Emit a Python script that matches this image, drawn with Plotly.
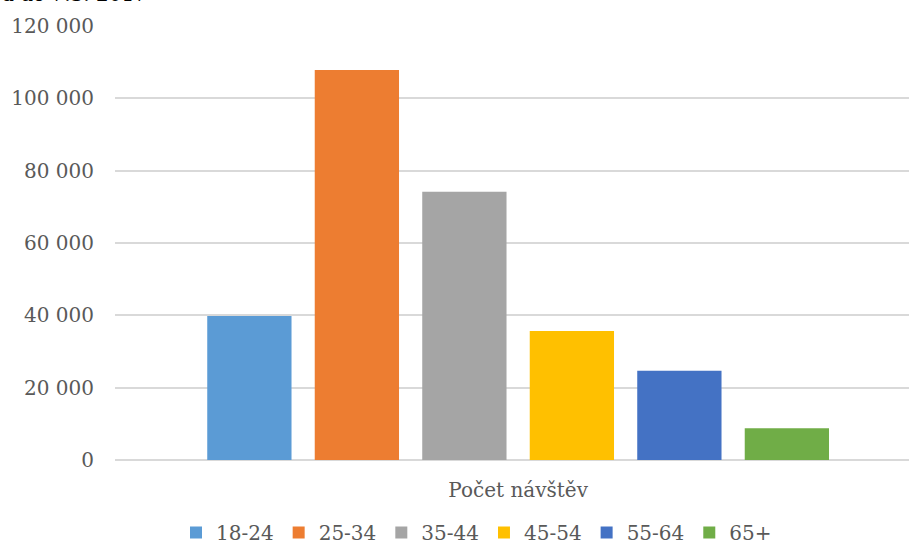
import plotly.graph_objects as go

category = ["Počet návštěv"]
age_groups = ["18-24", "25-34", "35-44", "45-54", "55-64", "65+"]
visits = [39800, 107800, 74200, 35700, 24700, 8800]
colors = ["#5B9BD5", "#ED7D31", "#A5A5A5", "#FFC000", "#4472C4", "#70AD47"]
y_ticks = [0, 20000, 40000, 60000, 80000, 100000, 120000]
title_fragment = "a do 7.3. 2017"

FONT = "DejaVu Serif"
GREY = "#595959"

fig = go.Figure()
for name, val, col in zip(age_groups, visits, colors):
    fig.add_trace(go.Bar(
        x=category, y=[val], name=name,
        marker=dict(color=col, line=dict(width=0)),
    ))

W, H = 909, 552
L, R, T, B = 115, 0, 26, 92

fig.update_layout(
    width=W, height=H,
    margin=dict(l=L, r=R, t=T, b=B, pad=0, autoexpand=False),
    paper_bgcolor="white", plot_bgcolor="white",
    barmode="group", bargap=0.2, bargroupgap=0.216,
    separators=", ",
    font=dict(family=FONT, size=20, color=GREY),
    showlegend=True,
    legend=dict(
        orientation="h", xanchor="left", yanchor="bottom",
        xref="paper", yref="container",
        x=(176 - L) / (W - L - R), y=-0.009,
        font=dict(family=FONT, size=20, color=GREY),
        bgcolor="rgba(0,0,0,0)", borderwidth=0,
    ),
    xaxis=dict(
        range=[-0.5, -0.5 + (W - L - R) / 806.25],
        showgrid=False, showline=False, zeroline=False,
        ticks="", ticklabelstandoff=16, automargin=False,
        tickfont=dict(family=FONT, size=20, color=GREY),
        fixedrange=True,
    ),
    yaxis=dict(
        range=[0, 120000], tickvals=y_ticks, tickformat=",d",
        showgrid=True, gridcolor="#d9d9d9", gridwidth=2,
        zeroline=True, zerolinecolor="#d9d9d9", zerolinewidth=2,
        showline=False, ticks="", ticklabelstandoff=20, automargin=False,
        tickfont=dict(family=FONT, size=20, color=GREY),
        fixedrange=True,
    ),
    annotations=[dict(
        text=title_fragment, xref="paper", yref="paper",
        x=-L / (W - L - R), y=1 + (T - 8) / (H - T - B),
        xanchor="left", yanchor="bottom", showarrow=False,
        font=dict(family=FONT, size=20, color="#000000"),
    )],
)

fig.write_html("out.html")
